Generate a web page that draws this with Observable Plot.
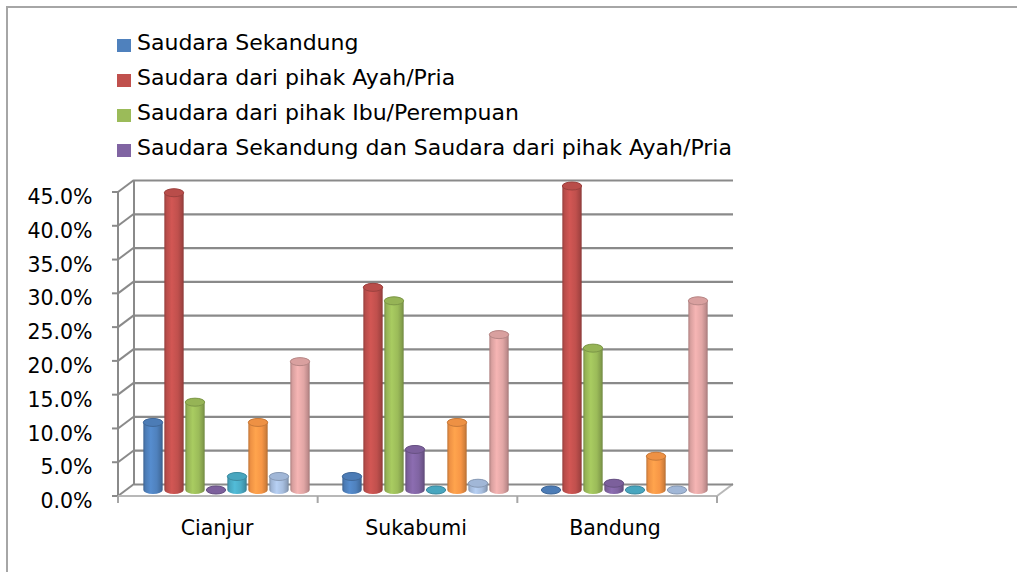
<!DOCTYPE html>
<html>
<head>
<meta charset="utf-8">
<script src="https://cdn.jsdelivr.net/npm/d3@7"></script>
<script src="https://cdn.jsdelivr.net/npm/@observablehq/plot@0.6"></script>
<style>
  html, body { margin: 0; padding: 0; background: #fff; overflow: hidden; }
  #wrap { position: relative; width: 1017px; height: 572px; }
  #frame { position: absolute; left: 6px; top: 6px; width: 1100px; height: 700px;
           border-left: 2px solid #a6a6a6; border-top: 2px solid #a6a6a6; pointer-events: none; }
  #legend { height: 165px; position: relative; font-family: "DejaVu Sans", sans-serif; font-size: 22px; color: #000; }
  .item { position: absolute; left: 117px; height: 30px; white-space: nowrap; }
  .sw { position: absolute; left: 0; width: 14px; height: 13px; }
  .lb { position: absolute; left: 20px; line-height: 26px; }
  #chart svg { display: block; }
</style>
</head>
<body>
<div id="wrap">
  <div id="legend"></div>
  <div id="chart"></div>
  <div id="frame"></div>
</div>
<script>
// ---- data ----
const cities = ["Cianjur", "Sukabumi", "Bandung"];
const seriesNames = [
  "Saudara Sekandung",
  "Saudara dari pihak Ayah/Pria",
  "Saudara dari pihak Ibu/Perempuan",
  "Saudara Sekandung dan Saudara dari pihak Ayah/Pria",
  "Seri 5",
  "Seri 6",
  "Seri 7",
  "Seri 8"
];
const sekandung      = [10, 2, 0];
const ayahPria       = [44, 30, 45];
const ibuPerempuan   = [13, 28, 21];
const sekandungAyah  = [0, 6, 1];
const seri5          = [2, 0, 0];
const seri6          = [10, 10, 5];
const seri7          = [2, 1, 0];
const seri8          = [19, 23, 28];
const yTicks = [0, 5, 10, 15, 20, 25, 30, 35, 40, 45];
const legendShown = 4; // legend in the original only shows the first four entries
const colors = ["#4F81BD", "#C0504D", "#9BBB59", "#8064A2", "#4BACC6", "#F79646", "#A7BEDF", "#E1A6A5"];

const seriesValues = [sekandung, ayahPria, ibuPerempuan, sekandungAyah, seri5, seri6, seri7, seri8];
const table = [];
seriesValues.forEach((vals, s) => vals.forEach((v, c) => table.push({city: cities[c], series: s, value: v})));

// ---- legend ----
const legend = document.getElementById("legend");
const baselines = [53, 88, 123, 158];
seriesNames.slice(0, legendShown).forEach((name, i) => {
  const it = document.createElement("div");
  it.className = "item";
  it.style.top = (baselines[i] - 20) + "px";
  it.innerHTML = `<div class="sw" style="top:6px;background:${colors[i]}"></div><div class="lb" style="top:-3px">${name}</div>`;
  legend.appendChild(it);
});

// ---- chart ----
const W = 1017, H = 407;
const mL = 126, mR = 292, mT = 21, mB = 82;
const bandW = (W - mL - mR) / cities.length;
const barStep = 21, barW = 20;
const depth = {dx: 8, dy: 6};
const FONT = "'DejaVu Sans', sans-serif";

const barMarks = [];
seriesValues.forEach((vals, s) => {
  const rows = table.filter(d => d.series === s);
  const off = (s - (seriesValues.length - 1) / 2) * barStep;
  const inset = (bandW - barW) / 2;
  barMarks.push(Plot.barY(rows, {
    x: "city", y1: 0, y2: "value", dx: off,
    insetLeft: inset, insetRight: inset, insetTop: -4, insetBottom: -4,
    rx: barW / 2, ry: 4, fill: `url(#cyl${s})`
  }));
  barMarks.push(Plot.barY(rows, {
    x: "city", y1: "value", y2: "value", dx: off,
    insetLeft: inset, insetRight: inset, insetTop: -4, insetBottom: -4,
    rx: barW / 2, ry: 4,
    fill: d3.color(colors[s]).darker(0.1).formatHex(),
    stroke: d3.color(colors[s]).darker(0.6).formatHex(), strokeWidth: 1
  }));
});

const plot = Plot.plot({
  width: W, height: H,
  marginLeft: mL, marginRight: mR, marginTop: mT, marginBottom: mB,
  x: {domain: cities, padding: 0, axis: null},
  y: {domain: [0, 45], axis: null},
  style: {fontFamily: FONT, fontSize: "20.5px", color: "#000", background: "transparent", overflow: "visible"},
  marks: [
    Plot.ruleY(yTicks, {y: d => d, dx: depth.dx, dy: -depth.dy, stroke: "#8a8a8a", strokeWidth: 2.2, strokeOpacity: 1}),
    ...barMarks,
    Plot.text(yTicks, {y: d => d, frameAnchor: "left", dx: -34, dy: 11, textAnchor: "end",
      text: d => d.toFixed(1) + "%", fill: "#000", fontSize: 20.5}),
    Plot.text(cities, {x: d => d, frameAnchor: "bottom", dx: -10, dy: 44, text: d => d, fill: "#000", fontSize: 20.5})
  ]
});

// 3D frame lines drawn from the plot's own scales
const sy = plot.scale("y"), sx = plot.scale("x");
const yS = d3.scaleLinear(sy.domain, sy.range);
const xS = d3.scaleBand(sx.domain, sx.range).padding(0);
const svg = d3.select(plot);
const defs = svg.insert("defs", ":first-child");
colors.forEach((c, s) => {
  const g = defs.append("linearGradient").attr("id", `cyl${s}`).attr("x1", 0).attr("x2", 1).attr("y1", 0).attr("y2", 0);
  const col = d3.color(c);
  [[0, col.darker(0.7)], [0.12, col.darker(0.1)], [0.38, col.brighter(0.25)], [0.7, col], [0.9, col.darker(0.45)], [1, col.darker(0.9)]]
    .forEach(([o, k]) => g.append("stop").attr("offset", o).attr("stop-color", k.formatHex()));
});
const lines = svg.insert("g", "defs + *").attr("stroke-width", 2).attr("fill", "none");
const x0 = xS.range()[0], x1 = xS.range()[1];
const line = (ax, ay, bx, by, col) => lines.append("line").attr("x1", ax).attr("y1", ay).attr("x2", bx).attr("y2", by).attr("stroke", col);
const fx0 = x0 - depth.dx, bx0 = x0 + depth.dx;
// left wall: front axis, back edge, diagonals, ticks
line(fx0, yS(0) + depth.dy, fx0, yS(45) + depth.dy, "#8a8a8a");
line(bx0, yS(0) - depth.dy, bx0, yS(45) - depth.dy, "#8a8a8a");
yTicks.forEach(t => {
  line(fx0, yS(t) + depth.dy, bx0, yS(t) - depth.dy, "#8a8a8a");
  line(fx0 - 6, yS(t) + depth.dy, fx0, yS(t) + depth.dy, "#8a8a8a");
});
// floor
line(fx0, yS(0) + depth.dy, x1 - depth.dx, yS(0) + depth.dy, "#b8b8b8");
line(x1 - depth.dx, yS(0) + depth.dy, x1 + depth.dx, yS(0) - depth.dy, "#b8b8b8");
// category boundary ticks
[...cities.map(c => xS(c)), x1].forEach(xv => line(xv - depth.dx, yS(0) + depth.dy, xv - depth.dx, yS(0) + depth.dy + 7, "#a6a6a6"));

document.getElementById("chart").appendChild(plot);
</script>
</body>
</html>
